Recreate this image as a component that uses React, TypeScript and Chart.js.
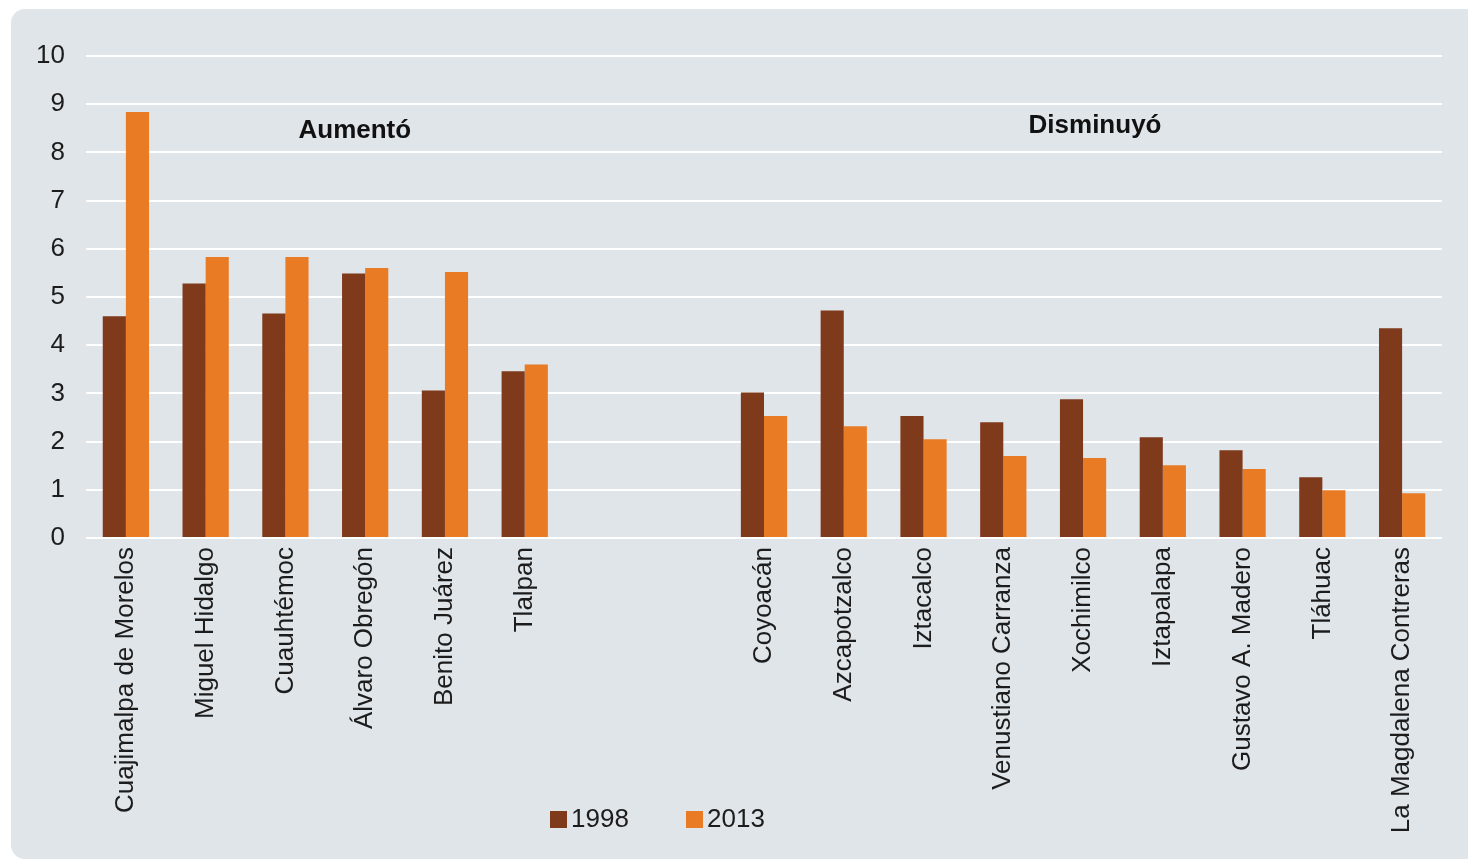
import React, { useEffect, useRef } from "react";
import { Chart, registerables } from "chart.js";

Chart.register(...registerables);

const categories = [
  "Cuajimalpa de Morelos",
  "Miguel Hidalgo",
  "Cuauhtémoc",
  "Álvaro Obregón",
  "Benito Juárez",
  "Tlalpan",
  "",
  "",
  "Coyoacán",
  "Azcapotzalco",
  "Iztacalco",
  "Venustiano Carranza",
  "Xochimilco",
  "Iztapalapa",
  "Gustavo A. Madero",
  "Tláhuac",
  "La Magdalena Contreras",
];

const values1998 = [4.6, 5.28, 4.66, 5.49, 3.06, 3.46, null, null, 3.02, 4.72, 2.53, 2.4, 2.88, 2.09, 1.82, 1.26, 4.35];
const values2013 = [8.84, 5.83, 5.83, 5.6, 5.52, 3.6, null, null, 2.53, 2.32, 2.05, 1.7, 1.66, 1.51, 1.43, 0.99, 0.93];

const seriesLabels = ["1998", "2013"];
const seriesColors = ["#7f3a1b", "#ea7b25"];
const yTicks = [0, 1, 2, 3, 4, 5, 6, 7, 8, 9, 10];

const groupNotes = [
  { text: "Aumentó", at: 2.87, value: 8.45 },
  { text: "Disminuyó", at: 12.15, value: 8.55 },
];

const FONT = "'Liberation Sans', Arial, sans-serif";
const TEXT = "#1c1c1c";

export default function App() {
  const ref = useRef<HTMLCanvasElement | null>(null);

  useEffect(() => {
    if (!ref.current) return;
    const notesPlugin = {
      id: "notes",
      afterDraw(chart: any) {
        const ctx = chart.ctx;
        const xs = chart.scales.x;
        const ys = chart.scales.y;
        ctx.save();
        ctx.fillStyle = "#111";
        ctx.font = `bold 26px ${FONT}`;
        ctx.textAlign = "center";
        ctx.textBaseline = "middle";
        const w = xs.getPixelForValue(1) - xs.getPixelForValue(0);
        groupNotes.forEach((n) => {
          const x = xs.getPixelForValue(0) + n.at * w;
          ctx.fillText(n.text, x, ys.getPixelForValue(n.value));
        });
        // legend
        ctx.font = `26px ${FONT}`;
        ctx.textAlign = "left";
        ctx.textBaseline = "middle";
        const legendY = 819;
        const starts = [550, 686];
        seriesLabels.forEach((l, i) => {
          ctx.fillStyle = seriesColors[i];
          ctx.fillRect(starts[i], legendY - 8, 17, 17);
          ctx.fillStyle = TEXT;
          ctx.fillText(l, starts[i] + 21, legendY + 1);
        });
        ctx.restore();
      },
    };

    const chart = new Chart(ref.current, {
      type: "bar",
      data: {
        labels: categories,
        datasets: [
          {
            label: seriesLabels[0],
            data: values1998 as any,
            backgroundColor: seriesColors[0],
            barPercentage: 1,
            categoryPercentage: 0.58,
          },
          {
            label: seriesLabels[1],
            data: values2013 as any,
            backgroundColor: seriesColors[1],
            barPercentage: 1,
            categoryPercentage: 0.58,
          },
        ],
      },
      options: {
        responsive: false,
        animation: false,
        layout: { padding: { top: 56, right: 26, left: 0, bottom: 0 } },
        plugins: {
          legend: { display: false },
          tooltip: { enabled: false },
        },
        scales: {
          x: {
            grid: { display: false, drawTicks: false },
            border: { display: false },
            ticks: {
              autoSkip: false,
              minRotation: 90,
              maxRotation: 90,
              padding: 9,
              color: TEXT,
              font: { family: FONT, size: 26 },
            },
            afterFit(scale: any) {
              scale.height = 321;
            },
          },
          y: {
            min: 0,
            max: 10,
            afterBuildTicks(scale: any) {
              scale.ticks = yTicks.map((v) => ({ value: v }));
            },
            grid: { color: "#ffffff", lineWidth: 2, drawTicks: false },
            border: { display: false },
            ticks: {
              padding: 21,
              color: TEXT,
              font: { family: FONT, size: 26 },
            },
            afterFit(scale: any) {
              scale.width = 86;
            },
          },
        },
      },
      plugins: [notesPlugin],
    });
    return () => chart.destroy();
  }, []);

  return (
    <div style={{ position: "absolute", left: 0, top: 0, width: 1468, height: 859, background: "#ffffff" }}>
      <div
        style={{
          position: "absolute",
          left: 11,
          top: 9,
          width: 1457,
          height: 850,
          background: "#e0e5e9",
          borderRadius: "14px 0 0 14px",
        }}
      />
      <canvas ref={ref} width={1468} height={859} style={{ position: "absolute", left: 0, top: 0, width: 1468, height: 859 }} />
    </div>
  );
}
